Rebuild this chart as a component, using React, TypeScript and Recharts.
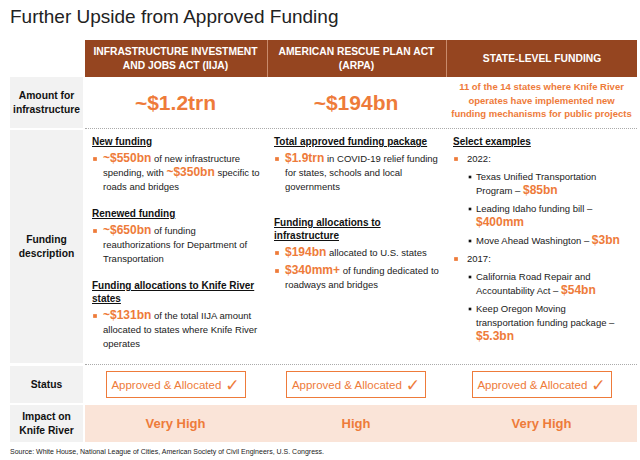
import React from 'react';
import { Surface, Symbols } from 'recharts';

const TITLE = 'Further Upside from Approved Funding';
const SOURCE = 'Source: White House, National League of Cities, American Society of Civil Engineers, U.S. Congress.';

const COLUMN_HEADERS = [
  ['INFRASTRUCTURE INVESTMENT', 'AND JOBS ACT (IIJA)'],
  ['AMERICAN RESCUE PLAN ACT', '(ARPA)'],
  ['STATE-LEVEL FUNDING'],
];
const ROW_LABELS = [['Amount for', 'infrastructure'], ['Funding', 'description'], ['Status'], ['Impact on', 'Knife River']];
const AMOUNTS = ['~$1.2trn', '~$194bn'];
const STATE_NOTE = ['11 of the 14 states where Knife River', 'operates have implemented new', 'funding mechanisms for public projects'];
const STATUS = ['Approved & Allocated', 'Approved & Allocated', 'Approved & Allocated'];
const IMPACT = ['Very High', 'High', 'Very High'];

type Seg = [string, boolean];
type Item = { h?: string; b?: Seg[]; lvl?: number; gap?: boolean };

const IIJA_DESC: Item[] = [
  { h: 'New funding' },
  { b: [['~$550bn', true], [' of new infrastructure\nspending, with ', false], ['~$350bn', true], [' specific to\nroads and bridges', false]] },
  { h: 'Renewed funding' },
  { b: [['~$650bn', true], [' of funding\nreauthorizations for Department of\nTransportation', false]] },
  { h: 'Funding allocations to Knife River\nstates' },
  { b: [['~$131bn', true], [' of the total IIJA amount\nallocated to states where Knife River\noperates', false]] },
];
const ARPA_DESC: Item[] = [
  { h: 'Total approved funding package' },
  { b: [['$1.9trn', true], [' in COVID-19 relief funding\nfor states, schools and local\ngovernments', false]] },
  { gap: true },
  { h: 'Funding allocations to\ninfrastructure' },
  { b: [['$194bn', true], [' allocated to U.S. states', false]] },
  { b: [['$340mm+', true], [' of funding dedicated to\nroadways and bridges', false]] },
];
const STATE_DESC: Item[] = [
  { h: 'Select examples' },
  { b: [['2022:', false]] },
  { lvl: 2, b: [['Texas Unified Transportation\nProgram – ', false], ['$85bn', true]] },
  { lvl: 2, b: [['Leading Idaho funding bill –\n', false], ['$400mm', true]] },
  { lvl: 2, b: [['Move Ahead Washington – ', false], ['$3bn', true]] },
  { b: [['2017:', false]] },
  { lvl: 2, b: [['California Road Repair and\nAccountability Act – ', false], ['$54bn', true]] },
  { lvl: 2, b: [['Keep Oregon Moving\ntransportation funding package –\n', false], ['$5.3bn', true]] },
];
const DESCRIPTIONS = [IIJA_DESC, ARPA_DESC, STATE_DESC];

const BROWN = '#954520';
const ORANGE = '#EE7B3A';
const PEACH = '#FAE4D8';
const GREY = '#F2F2F2';
const FONT = '"Liberation Sans", Arial, sans-serif';

const COLS = [
  { left: 85, width: 181 },
  { left: 267, width: 178 },
  { left: 446, width: 191 },
];
const ROWS = [
  { top: 77, height: 51 },
  { top: 130, height: 233 },
  { top: 366, height: 37 },
  { top: 405, height: 37 },
];

const Bullet = ({ lvl }: { lvl: number }) => (
  <Surface width={lvl === 2 ? 9 : 11} height={14} style={{ flex: 'none' }}>
    <Symbols cx={3} cy={7} type="square" size={lvl === 2 ? 7 : 14} fill={lvl === 2 ? '#111' : ORANGE} />
  </Surface>
);

const DescColumn = ({ items, lvl1Indent }: { items: Item[]; lvl1Indent: number }) => (
  <div>
    {items.map((it, i) => {
      if (it.gap) return <div key={i} style={{ height: 9 }} />;
      if (it.h) {
        return (
          <div key={i} style={{
            fontWeight: 700, fontSize: 10, lineHeight: '13px', textDecoration: 'underline',
            whiteSpace: 'pre', color: '#111', marginTop: i === 0 ? 0 : 13, marginBottom: 1,
          }}>{it.h}</div>
        );
      }
      const lvl = it.lvl || 1;
      return (
        <div key={i} style={{ display: 'flex', marginTop: 4, marginLeft: lvl === 2 ? 14 : 0 }}>
          <Bullet lvl={lvl} />
          <div style={{ fontSize: 9.5, lineHeight: '14px', whiteSpace: 'pre', color: '#1a1a1a', marginLeft: lvl === 1 ? lvl1Indent : 0 }}>
            {it.b!.map(([t, hl], j) => (
              <span key={j} style={hl ? { color: ORANGE, fontWeight: 700, fontSize: 12, lineHeight: '10px' } : {}}>{t}</span>
            ))}
          </div>
        </div>
      );
    })}
  </div>
);

export default function App() {
  return (
    <div style={{ position: 'absolute', left: 0, top: 0, width: 640, height: 460, background: '#fff', overflow: 'hidden', fontFamily: FONT }}>
      <div style={{ position: 'absolute', left: 10, top: 4, fontSize: 19, color: '#222', lineHeight: '26px' }}>{TITLE}</div>

      {/* header */}
      <div style={{ position: 'absolute', left: 85, top: 40, width: 552, height: 37, background: BROWN }} />
      {COLUMN_HEADERS.map((lines, i) => (
        <div key={i} style={{
          position: 'absolute', left: COLS[i].left, top: 40, width: COLS[i].width, height: 37,
          display: 'flex', flexDirection: 'column', justifyContent: 'center', alignItems: 'center',
          color: '#fff', fontWeight: 700, fontSize: 10.3, lineHeight: '14px',
          borderLeft: i > 0 ? '1px solid #c98b6c' : 'none', boxSizing: 'border-box',
        }}>
          {lines.map((l, j) => <div key={j}>{l}</div>)}
        </div>
      ))}

      {/* row labels */}
      {ROW_LABELS.map((lines, i) => (
        <div key={i} style={{
          position: 'absolute', left: 10, top: ROWS[i].top, width: 73, height: ROWS[i].height, background: GREY,
          display: 'flex', flexDirection: 'column', justifyContent: 'center', alignItems: 'center',
          fontWeight: 700, fontSize: 10.3, lineHeight: '14px', color: '#111',
        }}>
          {lines.map((l, j) => <div key={j}>{l}</div>)}
        </div>
      ))}

      {/* separators */}
      {[128, 364].map((y) => (
        <div key={y} style={{ position: 'absolute', left: 85, top: y, width: 552, borderTop: '1px dotted #aaa' }} />
      ))}

      {/* amount row */}
      {AMOUNTS.map((a, i) => (
        <div key={i} style={{
          position: 'absolute', left: COLS[i].left, top: ROWS[0].top, width: COLS[i].width, height: ROWS[0].height,
          display: 'flex', justifyContent: 'center', alignItems: 'center', color: ORANGE, fontWeight: 700, fontSize: 21,
        }}>{a}</div>
      ))}
      <div style={{
        position: 'absolute', left: COLS[2].left, top: ROWS[0].top - 2, width: COLS[2].width, height: ROWS[0].height,
        display: 'flex', flexDirection: 'column', justifyContent: 'center', alignItems: 'center',
        color: ORANGE, fontWeight: 700, fontSize: 9.5, lineHeight: '13.5px',
      }}>
        {STATE_NOTE.map((l, j) => <div key={j}>{l}</div>)}
      </div>

      {/* description row */}
      {DESCRIPTIONS.map((items, i) => (
        <div key={i} style={{ position: 'absolute', left: COLS[i].left + 7, top: ROWS[1].top + 5, width: COLS[i].width - 8 }}>
          <DescColumn items={items} lvl1Indent={i === 2 ? 3 : 0} />
        </div>
      ))}

      {/* status row */}
      {STATUS.map((s, i) => (
        <div key={i} style={{
          position: 'absolute', left: COLS[i].left + COLS[i].width / 2 - 70, top: ROWS[2].top + 5, width: 140, height: 27,
          border: `1.5px solid ${ORANGE}`, boxSizing: 'border-box', display: 'flex', justifyContent: 'center', alignItems: 'center',
          color: ORANGE, fontSize: 11.5,
        }}>
          {s}<span style={{ fontSize: 17, marginLeft: 4, fontFamily: '"DejaVu Sans", sans-serif', lineHeight: '16px' }}>✓</span>
        </div>
      ))}

      {/* impact row */}
      <div style={{ position: 'absolute', left: 85, top: ROWS[3].top, width: 552, height: ROWS[3].height, background: PEACH }} />
      {IMPACT.map((s, i) => (
        <div key={i} style={{
          position: 'absolute', left: COLS[i].left, top: ROWS[3].top, width: COLS[i].width, height: ROWS[3].height,
          display: 'flex', justifyContent: 'center', alignItems: 'center', color: ORANGE, fontWeight: 700, fontSize: 13,
        }}>{s}</div>
      ))}

      <div style={{ position: 'absolute', left: 10, top: 448, fontSize: 7, color: '#222' }}>{SOURCE}</div>
    </div>
  );
}
